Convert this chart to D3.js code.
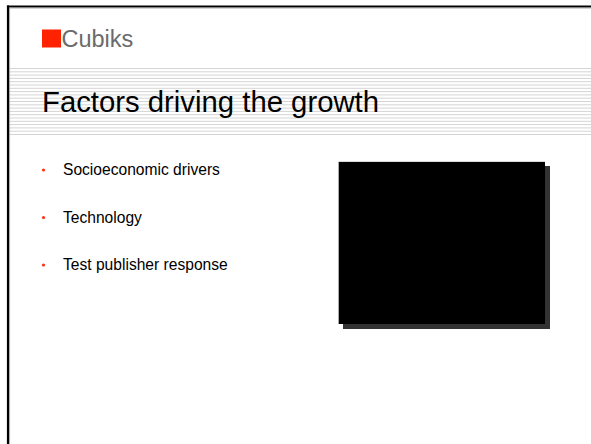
<!DOCTYPE html>
<html>
<head>
<meta charset="utf-8">
<script src="https://cdn.jsdelivr.net/npm/d3@7"></script>
<style>
  html, body { margin: 0; padding: 0; background: #fff; }
  svg { display: block; font-family: "Liberation Sans", Arial, sans-serif; }
</style>
</head>
<body>
<svg id="slide" width="591" height="444"></svg>
<script>
const brand = "Cubiks";
const title = "Factors driving the growth";
const bullets = ["Socioeconomic drivers", "Technology", "Test publisher response"];
const stripeCount = [0, 1, 2, 3, 4, 5, 6, 7, 8, 9, 10, 11, 12, 13, 14, 15, 16, 17, 18, 19, 20];

const svg = d3.select("#slide");
const W = 591, H = 444;

// slide frame (top + left borders)
svg.append("rect").attr("x", 0).attr("y", 0).attr("width", W).attr("height", H).attr("fill", "#fff");

// header stripes
const yStripe = d3.scaleLinear().domain([0, stripeCount.length - 1]).range([68.5, 134.5]);
svg.append("g").selectAll("line").data(stripeCount).join("line")
  .attr("x1", 9).attr("x2", W)
  .attr("y1", d => yStripe(d)).attr("y2", d => yStripe(d))
  .attr("stroke", "#d4d4d4").attr("stroke-width", 1);

// borders
svg.append("line").attr("x1", 7).attr("x2", W).attr("y1", 6.5).attr("y2", 6.5)
  .attr("stroke", "#000").attr("stroke-width", 2.2);
svg.append("line").attr("x1", 8).attr("x2", 8).attr("y1", 5.5).attr("y2", H)
  .attr("stroke", "#000").attr("stroke-width", 2.2);
svg.append("line").attr("x1", 9.6).attr("x2", 9.6).attr("y1", 8).attr("y2", H)
  .attr("stroke", "#9a9a9a").attr("stroke-width", 0.8);
svg.append("line").attr("x1", 9).attr("x2", W).attr("y1", 8.2).attr("y2", 8.2)
  .attr("stroke", "#9a9a9a").attr("stroke-width", 0.6);

// brand logo
svg.append("rect").attr("x", 42).attr("y", 29.5).attr("width", 19).attr("height", 18)
  .attr("fill", "#ff2200");
svg.append("text").attr("x", 61.5).attr("y", 47).text(brand)
  .attr("font-size", 23.5).attr("fill", "#6b6b6b");

// title
svg.append("text").attr("x", 42).attr("y", 112).text(title)
  .attr("font-size", 29.3).attr("fill", "#000");

// bullets
const yB = d3.scalePoint().domain(bullets).range([175, 270]);
const gB = svg.append("g");
gB.selectAll("circle").data(bullets).join("circle")
  .attr("cx", 43.5).attr("cy", d => yB(d) - 5)
  .attr("r", 1.6).attr("fill", "#ff3311");
gB.selectAll("text").data(bullets).join("text")
  .attr("x", 63).attr("y", d => yB(d)).text(d => d)
  .attr("font-size", 15.6).attr("fill", "#000");

// black picture box with shadow
const box = {x: 338, y: 161, w: 207, h: 163};
svg.append("rect").attr("x", box.x + 5).attr("y", box.y + 5).attr("width", box.w).attr("height", box.h)
  .attr("fill", "#333");
svg.append("rect").attr("x", box.x).attr("y", box.y).attr("width", box.w).attr("height", box.h)
  .attr("fill", "#000");
svg.append("line").attr("x1", box.x + 0.5).attr("x2", box.x + 0.5).attr("y1", box.y).attr("y2", box.y + box.h)
  .attr("stroke", "#aaa").attr("stroke-width", 1);
svg.append("line").attr("x1", box.x).attr("x2", box.x + box.w).attr("y1", box.y + 0.5).attr("y2", box.y + 0.5)
  .attr("stroke", "#ddd").attr("stroke-width", 1);
</script>
</body>
</html>
